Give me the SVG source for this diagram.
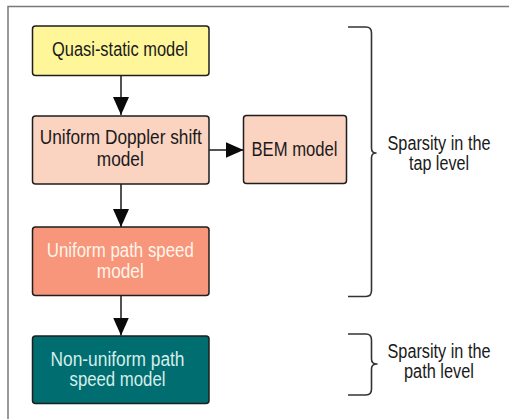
<svg xmlns="http://www.w3.org/2000/svg" width="509" height="419" viewBox="0 0 509 419">
  <style>
    .box { stroke: #1e1e1e; stroke-width: 1.5; }
    .lbl { font-family: "Liberation Sans", Arial, sans-serif; font-size: 20px; text-anchor: middle; fill: #1a1a1a; }
    .light { fill: #fff4ea; }
    .teal { fill: #d6eeea; }
    .conn { stroke: #1a1a1a; stroke-width: 1.5; fill: none; }
    .brace { stroke: #333; stroke-width: 1.6; fill: none; stroke-linejoin: round; }
    .frame { stroke: #7a7a7a; stroke-width: 1.5; fill: none; }
  </style>
  <defs>
    <marker id="arrow" viewBox="0 0 18 16" refX="18" refY="8" markerWidth="18" markerHeight="16" markerUnits="userSpaceOnUse" orient="auto">
      <path d="M0,0 L18,8 L0,16 z" fill="#0a0a0a"/>
    </marker>
  </defs>

  <rect width="509" height="419" fill="#ffffff"/>
  <path class="frame" d="M8,419 V6.5 H509"/>

  <g id="connectors">
    <line class="conn" x1="121" y1="75.5" x2="121" y2="115" marker-end="url(#arrow)"/>
    <line class="conn" x1="209" y1="150" x2="243.5" y2="150" marker-end="url(#arrow)"/>
    <line class="conn" x1="121" y1="184" x2="121" y2="227" marker-end="url(#arrow)"/>
    <line class="conn" x1="121" y1="295.5" x2="121" y2="335.5" marker-end="url(#arrow)"/>
  </g>

  <g id="quasi-static">
    <rect class="box" x="32.5" y="26" width="176.5" height="49.5" rx="3" fill="#fff69a"/>
    <text class="lbl" x="120" y="56" textLength="136" lengthAdjust="spacingAndGlyphs">Quasi-static model</text>
  </g>

  <g id="uniform-doppler">
    <rect class="box" x="32.5" y="116" width="176.5" height="68" rx="3" fill="#fbd3c1"/>
    <text class="lbl" x="120.8" y="144" textLength="162" lengthAdjust="spacingAndGlyphs">Uniform Doppler shift</text>
    <text class="lbl" x="120.3" y="165.5" textLength="47" lengthAdjust="spacingAndGlyphs">model</text>
  </g>

  <g id="bem">
    <rect class="box" x="243.5" y="115.5" width="103" height="68" rx="3" fill="#fbd3c1"/>
    <text class="lbl" x="294.5" y="156" textLength="86" lengthAdjust="spacingAndGlyphs">BEM model</text>
  </g>

  <g id="uniform-path-speed">
    <rect class="box" x="32.5" y="227" width="176.5" height="68.5" rx="3" fill="#f7967a"/>
    <text class="lbl light" x="120.3" y="257" textLength="147" lengthAdjust="spacingAndGlyphs">Uniform path speed</text>
    <text class="lbl light" x="120.3" y="277.5" textLength="47" lengthAdjust="spacingAndGlyphs">model</text>
  </g>

  <g id="non-uniform-path-speed">
    <rect class="box" x="32.5" y="336" width="176.5" height="67.5" rx="3" fill="#006d70"/>
    <text class="lbl teal" x="117.5" y="365.5" textLength="134" lengthAdjust="spacingAndGlyphs">Non-uniform path</text>
    <text class="lbl teal" x="117.5" y="385.5" textLength="96" lengthAdjust="spacingAndGlyphs">speed model</text>
  </g>

  <g id="tap-level">
    <path class="brace" d="M348,27 H366 Q371.5,27 371.5,33 V148 Q371.5,153 376,153 Q371.5,153 371.5,158 V290.5 Q371.5,296.5 366,296.5 H348"/>
    <text class="lbl" x="439" y="150" textLength="103" lengthAdjust="spacingAndGlyphs">Sparsity in the</text>
    <text class="lbl" x="439" y="170" textLength="60" lengthAdjust="spacingAndGlyphs">tap level</text>
  </g>

  <g id="path-level">
    <path class="brace" d="M348,334 H366 Q371.5,334 371.5,340 V359 Q371.5,364 377,364 Q371.5,364 371.5,369 V389 Q371.5,395 366,395 H348"/>
    <text class="lbl" x="439" y="357.5" textLength="103" lengthAdjust="spacingAndGlyphs">Sparsity in the</text>
    <text class="lbl" x="439" y="378" textLength="70" lengthAdjust="spacingAndGlyphs">path level</text>
  </g>
</svg>
